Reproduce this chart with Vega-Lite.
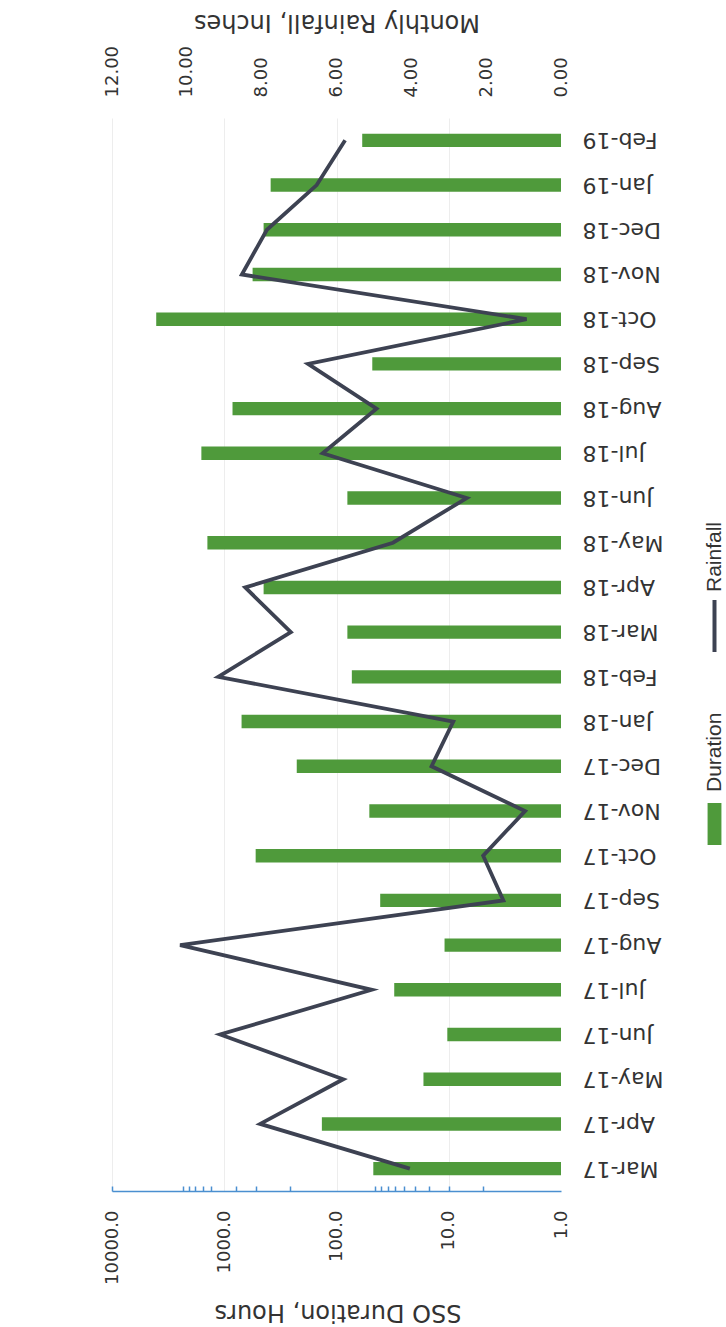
{
  "$schema": "https://vega.github.io/schema/vega-lite/v6.json",
  "autosize": {"type": "none"},
  "padding": {"left": 112, "top": 118, "right": 165, "bottom": 136},
  "width": 449,
  "height": 1073,
  "background": "white",
  "config": {
    "view": {"stroke": null},
    "font": "DejaVu Sans",
    "axis": {"labelColor": "#333333", "titleColor": "#333333", "titleFontWeight": "normal", "labelFont": "DejaVu Sans", "titleFont": "DejaVu Sans"}
  },
  "data": {
    "values": [
      {"month": "Mar-17", "duration": 47, "rainfall": 4.04},
      {"month": "Apr-17", "duration": 135, "rainfall": 8.04},
      {"month": "May-17", "duration": 16.8, "rainfall": 5.82},
      {"month": "Jun-17", "duration": 10.3, "rainfall": 9.11},
      {"month": "Jul-17", "duration": 30.6, "rainfall": 5.06},
      {"month": "Aug-17", "duration": 10.9, "rainfall": 10.18},
      {"month": "Sep-17", "duration": 40.8, "rainfall": 1.54},
      {"month": "Oct-17", "duration": 525, "rainfall": 2.08},
      {"month": "Nov-17", "duration": 51, "rainfall": 0.96},
      {"month": "Dec-17", "duration": 226, "rainfall": 3.46},
      {"month": "Jan-18", "duration": 701, "rainfall": 2.88},
      {"month": "Feb-18", "duration": 73, "rainfall": 9.16},
      {"month": "Mar-18", "duration": 80, "rainfall": 7.22},
      {"month": "Apr-18", "duration": 446, "rainfall": 8.44},
      {"month": "May-18", "duration": 1413, "rainfall": 4.49},
      {"month": "Jun-18", "duration": 80, "rainfall": 2.52},
      {"month": "Jul-18", "duration": 1599, "rainfall": 6.37},
      {"month": "Aug-18", "duration": 844, "rainfall": 4.93},
      {"month": "Sep-18", "duration": 48, "rainfall": 6.76},
      {"month": "Oct-18", "duration": 4037, "rainfall": 0.92},
      {"month": "Nov-18", "duration": 559, "rainfall": 8.53},
      {"month": "Dec-18", "duration": 446, "rainfall": 7.86},
      {"month": "Jan-19", "duration": 386, "rainfall": 6.53},
      {"month": "Feb-19", "duration": 59, "rainfall": 5.77}
    ]
  },
  "encoding": {
    "y": {
      "field": "month",
      "type": "ordinal",
      "sort": null,
      "scale": {"reverse": true, "paddingInner": 0.7, "paddingOuter": 0.35},
      "axis": {
        "orient": "right",
        "title": null,
        "domain": false,
        "ticks": false,
        "grid": false,
        "labelAngle": 180,
        "labelAlign": "right",
        "labelBaseline": "middle",
        "labelPadding": 21,
        "labelFontSize": 22,
        "labelColor": "#333333"
      }
    }
  },
  "layer": [
    {
      "mark": {"type": "bar"},
      "encoding": {
        "x": {
          "field": "duration",
          "type": "quantitative",
          "scale": {"type": "log", "domain": [1, 10000], "reverse": true},
          "axis": {
            "orient": "bottom",
            "values": [1, 5, 10, 15, 20, 25, 30, 35, 40, 45, 100, 260, 520, 780, 1000, 1300, 1560, 1820, 2080, 2340, 10000],
            "labelExpr": "indexof([1,10,100,1000,10000], datum.value) >= 0 ? format(datum.value, '.1f') : ''",
            "labelAngle": 270,
            "labelAlign": "right",
            "labelBaseline": "middle",
            "labelPadding": 24,
            "labelFontSize": 18,
            "labelOverlap": false,
            "labelFlush": false,
            "labelBound": false,
            "domainColor": "#4a8fd0",
            "domainWidth": 1.5,
            "tickColor": "#4a8fd0",
            "tickSize": -5,
            "tickWidth": 1.5,
            "tickOpacity": {"condition": {"test": "datum.value == 1 || datum.value == 100 || datum.value == 1000", "value": 0}, "value": 1},
            "grid": true,
            "gridColor": "#ededed",
            "gridOpacity": {"condition": {"test": "indexof([10,100,1000,10000], datum.value) >= 0", "value": 1}, "value": 0},
            "title": "SSO Duration, Hours",
            "titleAngle": 180,
            "titleFontSize": 24,
            "titleX": 225.5,
            "titleY": 120,
            "titleAlign": "center",
            "titleBaseline": "middle"
          }
        },
        "x2": {"datum": 1},
        "fill": {
          "datum": "Duration",
          "type": "nominal",
          "scale": {"range": ["#4f9a3b"]},
          "legend": {
            "orient": "none",
            "legendX": 602.5,
            "legendY": 706,
            "title": null,
            "padding": 0,
            "symbolType": "M-0.33,-1L0.33,-1L0.33,1L-0.33,1Z",
            "symbolSize": 1764,
            "symbolStrokeWidth": 0,
            "labelFont": "Liberation Sans",
            "labelFontSize": 21,
            "labelColor": "#333333",
            "encode": {
              "symbols": {"update": {"x": {"value": 0}, "y": {"value": 0}}},
              "labels": {"update": {"x": {"value": 0}, "y": {"value": -32}, "angle": {"value": -90}, "align": {"value": "left"}, "baseline": {"value": "middle"}}}
            }
          }
        }
      }
    },
    {
      "mark": {"type": "line", "strokeWidth": 3.8, "strokeJoin": "miter", "strokeCap": "butt"},
      "encoding": {
        "x": {
          "field": "rainfall",
          "type": "quantitative",
          "scale": {"domain": [0, 12], "reverse": true},
          "axis": {
            "orient": "top",
            "values": [0, 2, 4, 6, 8, 10, 12],
            "format": ".2f",
            "labelAngle": 270,
            "labelAlign": "left",
            "labelBaseline": "middle",
            "labelPadding": 21,
            "labelFontSize": 18,
            "labelFlush": false,
            "labelOverlap": false,
            "ticks": false,
            "domain": false,
            "grid": false,
            "title": "Monthly Rainfall, Inches",
            "titleAngle": 180,
            "titleFontSize": 24,
            "titleX": 224.5,
            "titleY": -97,
            "titleAlign": "center",
            "titleBaseline": "middle"
          }
        },
        "stroke": {
          "datum": "Rainfall",
          "type": "nominal",
          "scale": {"range": ["#3d4252"]},
          "legend": {
            "orient": "none",
            "legendX": 602.5,
            "legendY": 508,
            "title": null,
            "padding": 0,
            "symbolType": "M0,-1L0,1",
            "symbolSize": 2704,
            "symbolStrokeWidth": 4,
            "labelFont": "Liberation Sans",
            "labelFontSize": 21,
            "labelColor": "#333333",
            "encode": {
              "symbols": {"update": {"x": {"value": 0}, "y": {"value": 0}}},
              "labels": {"update": {"x": {"value": 0}, "y": {"value": -34}, "angle": {"value": -90}, "align": {"value": "left"}, "baseline": {"value": "middle"}}}
            }
          }
        },
        "order": {"value": null}
      }
    }
  ],
  "resolve": {"scale": {"x": "independent"}, "axis": {"x": "independent"}}
}
